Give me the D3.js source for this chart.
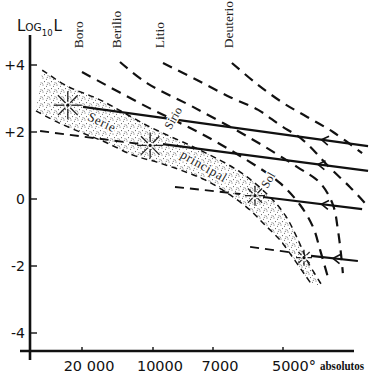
<!DOCTYPE html>
<meta charset="utf-8">
<style>
body { margin: 0; background: #fff; }
svg { display: block; }
.axis-line { stroke: #111; stroke-width: 2.6; fill: none; }
.tick { stroke: #111; stroke-width: 1.4; }
.tick-label { font: 14px "DejaVu Sans", sans-serif; fill: #111; }
.temp-label { font: 14.5px "DejaVu Sans", sans-serif; fill: #111; }
.ignition { stroke: #111; stroke-width: 2.2; fill: none; stroke-dasharray: 10 7; }
.band-edge { stroke: #111; stroke-width: 1.5; fill: none; stroke-dasharray: 6 4.5; }
.lead { stroke: #111; stroke-width: 1.9; fill: none; stroke-dasharray: 9 6; }
.track { stroke: #111; stroke-width: 2.2; fill: none; }
.arrow { stroke: #111; stroke-width: 1.6; fill: none; }
.ray { stroke: #222; stroke-width: 1.3; }
.serif { font-family: "Liberation Serif", "Times New Roman", serif; fill: #222; }
.halo { paint-order: stroke; stroke: #fff; stroke-width: 3px; stroke-linejoin: round; }
</style>
<body>
<script src="https://cdnjs.cloudflare.com/ajax/libs/d3/7.8.5/d3.min.js"></script>
<script>
var width = 371, height = 380;

// axes
var tempTicks = [20000, 10000, 7000, 5000];
var tempLabels = ["20 000", "10000", "7000", "5000°"];
var lumTicks = [4, 2, 0, -2, -4];
var lumLabels = ["+4", "+2", "0", "-2", "-4"];

// ignition lines, [temperature K, log L]
var elements = ["Boro", "Berilio", "Litio", "Deuterio"];
var boro = [[20000, 3.79], [10850, 2.75], [7650, 1.97], [6030, 1.16], [5090, 0.48],
            [4510, -0.18], [4140, -0.84], [3940, -1.52], [3710, -2.36]];
var berilio = [[14650, 4.09], [10850, 3.46], [8000, 2.75], [5940, 1.82], [4600, 0.96],
               [3940, 0.48], [3570, -0.18], [3430, -0.93], [3340, -1.67], [3290, -2.21]];
var litio = [[9500, 4.06], [7800, 3.55], [6510, 3.04], [5710, 2.66], [5090, 2.21],
             [4430, 1.76], [3660, 0.93], [3090, 0.36], [2660, -0.12]];
var deuterio = [[6460, 4.06], [5740, 3.43], [5000, 2.87], [4310, 2.45], [3570, 2.0], [2740, 1.37]];

// main sequence band edges
var bandUpper = [[25600, 3.85], [22100, 3.37], [17470, 2.96], [10430, 2.15], [7650, 1.46],
                 [6230, 0.81], [5430, 0.12], [4940, -0.48], [4570, -1.22], [4290, -1.88], [3890, -2.57]];
var bandLower = [[26480, 2.63], [23520, 2.30], [20280, 2.0], [16760, 1.70], [12820, 1.31],
                 [9800, 1.10], [8650, 0.87], [7400, 0.57], [6510, 0.12], [5940, -0.33],
                 [5510, -0.78], [5090, -1.22], [4710, -1.76], [4370, -2.27], [4170, -2.57]];

// stars on the main sequence
var starNames = ["", "Sirio", "Sol", ""];
var starT = [22000, 10400, 5800, 4400];
var starL = [2.8, 1.6, 0.1, -1.75];

// contraction tracks: solid part, dashed part left of the star, arrow temperature
var trackSolid = [
  [[19860, 2.75], [2570, 1.58]],
  [[9500, 1.64], [2570, 0.84]],
  [[5570, 0.06], [2740, -0.3]],
  [[4200, -1.70], [2860, -1.85]]
];
var trackLead = [
  null,
  [[25900, 2.03], [11800, 1.64]],
  [[8900, 0.36], [6230, 0.15]],
  [[5940, -1.43], [4660, -1.61]]
];
var arrowT = [3900, 4000, 3900, 3570];

// band text
var bandWords = ["Serie", "principal"];
var bandWordPos = [[17180, 2.3], [7450, 0.99]];

var x = d3.scaleLinear().domain(tempTicks).range([82, 153, 213, 283]);
var y = d3.scaleLinear().domain([-4, 4]).range([333, 65]);

var svg = d3.select("body").append("svg")
    .attr("width", width)
    .attr("height", height);

var defs = svg.append("defs");
var pat = defs.append("pattern")
    .attr("id", "stipple")
    .attr("patternUnits", "userSpaceOnUse")
    .attr("width", 7).attr("height", 7);
[[1, 1], [4.5, 2.2], [2.5, 4.6], [6, 5.8], [0.2, 6.2], [5.3, 0.2]].forEach(function(p) {
  pat.append("circle").attr("cx", p[0]).attr("cy", p[1]).attr("r", 0.55).attr("fill", "#555");
});

var smooth = d3.line()
    .x(function(d) { return x(d[0]); })
    .y(function(d) { return y(d[1]); })
    .curve(d3.curveCatmullRom.alpha(0.5));
var straight = d3.line()
    .x(function(d) { return x(d[0]); })
    .y(function(d) { return y(d[1]); });

// band fill
var up = smooth(bandUpper);
var low = smooth(bandLower.slice().reverse()).replace(/^M/, "L");
svg.append("path")
    .attr("d", up + low + "Z")
    .attr("fill", "url(#stipple)");

svg.selectAll(".band-edge")
  .data([bandUpper, bandLower])
  .enter().append("path")
    .attr("class", "band-edge")
    .attr("d", smooth);

// ignition lines
var ignition = [boro, berilio, litio, deuterio];
svg.selectAll(".ignition")
  .data(ignition)
  .enter().append("path")
    .attr("class", "ignition")
    .attr("d", smooth);

svg.selectAll(".element")
  .data(elements)
  .enter().append("text")
    .attr("class", "serif")
    .style("font-size", "13.5px")
    .attr("dy", "0.35em")
    .attr("transform", function(d, i) {
      return "translate(" + (x(ignition[i][0][0]) - 4) + "," + y(4.5) + ") rotate(-90)";
    })
    .text(function(d) { return d; });

// tracks
svg.selectAll(".lead")
  .data(trackLead.filter(function(d) { return d; }))
  .enter().append("path")
    .attr("class", "lead")
    .attr("d", straight);

svg.selectAll(".track")
  .data(trackSolid)
  .enter().append("path")
    .attr("class", "track")
    .attr("d", straight);

trackSolid.forEach(function(t, i) {
  var x0 = x(t[0][0]), y0 = y(t[0][1]), x1 = x(t[1][0]), y1 = y(t[1][1]);
  var px = x(arrowT[i]);
  var py = y0 + (px - x0) / (x1 - x0) * (y1 - y0);
  var ang = Math.atan2(y1 - y0, x1 - x0) * 180 / Math.PI;
  svg.append("path")
      .attr("class", "arrow")
      .attr("d", "M7,-4.5L0,0L7,4.5")
      .attr("transform", "translate(" + px + "," + py + ") rotate(" + ang + ")");
});

// stars
var starR = [14, 13, 10, 8];
starT.forEach(function(t, i) {
  var g = svg.append("g").attr("transform", "translate(" + x(t) + "," + y(starL[i]) + ")");
  d3.range(8).forEach(function(k) {
    var a = k * Math.PI / 4;
    g.append("line")
        .attr("class", "ray")
        .attr("x1", 3.5 * Math.cos(a)).attr("y1", 3.5 * Math.sin(a))
        .attr("x2", starR[i] * Math.cos(a)).attr("y2", starR[i] * Math.sin(a));
  });
  g.append("circle").attr("r", 1.6).attr("fill", "#111");
});

// star names
var starNamePos = [null, [9000, 2.42], [5430, 0.57], null];
starNames.forEach(function(n, i) {
  if (!n) return;
  svg.append("text")
      .attr("class", "serif halo")
      .style("font-size", "12px")
      .attr("text-anchor", "middle")
      .attr("dy", "0.35em")
      .attr("transform", "translate(" + x(starNamePos[i][0]) + "," + y(starNamePos[i][1]) + ") rotate(-60)")
      .text(n);
});

// band words
svg.selectAll(".band-word")
  .data(bandWords)
  .enter().append("text")
    .attr("class", "serif halo")
    .style("font-size", "13px")
    .style("letter-spacing", "0.6px")
    .attr("text-anchor", "middle")
    .attr("dy", "0.35em")
    .attr("transform", function(d, i) {
      return "translate(" + x(bandWordPos[i][0]) + "," + y(bandWordPos[i][1]) + ") rotate(" + (i ? 30 : 25) + ")";
    })
    .text(function(d) { return d; });

// axes
var x0px = 30, axisY = 351;
svg.append("line").attr("class", "axis-line")
    .attr("x1", x0px).attr("x2", x0px).attr("y1", 35).attr("y2", 360);
svg.append("line").attr("class", "axis-line")
    .attr("x1", 20).attr("x2", 354).attr("y1", axisY).attr("y2", axisY);

svg.selectAll(".ytick")
  .data(lumTicks)
  .enter().append("line")
    .attr("class", "tick")
    .attr("x1", x0px).attr("x2", x0px + 7)
    .attr("y1", function(d) { return y(d); })
    .attr("y2", function(d) { return y(d); });
svg.selectAll(".ylab")
  .data(lumTicks)
  .enter().append("text")
    .attr("class", "tick-label")
    .attr("text-anchor", "end")
    .attr("x", 25)
    .attr("y", function(d) { return y(d) + 5; })
    .text(function(d, i) { return lumLabels[i]; });

svg.selectAll(".xtick")
  .data(tempTicks)
  .enter().append("line")
    .attr("class", "tick")
    .attr("x1", function(d) { return x(d); })
    .attr("x2", function(d) { return x(d); })
    .attr("y1", axisY).attr("y2", axisY - 4);
svg.selectAll(".xlab")
  .data(tempTicks)
  .enter().append("text")
    .attr("class", "temp-label")
    .attr("x", function(d, i) { return x(d) + (i == 3 ? 11 : 7); })
    .attr("y", 371)
    .attr("text-anchor", "middle")
    .text(function(d, i) { return tempLabels[i]; });

svg.append("text")
    .attr("class", "serif")
    .attr("x", 320).attr("y", 370)
    .attr("textLength", 44)
    .attr("lengthAdjust", "spacingAndGlyphs")
    .style("font-size", "12.5px")
    .style("font-weight", "bold")
    .style("fill", "#111")
    .text("absolutos");

// y title: Log10 L
var title = svg.append("text")
    .attr("x", 17).attr("y", 31)
    .style("font-family", "'DejaVu Sans', sans-serif")
    .style("fill", "#111");
title.append("tspan").style("font-size", "15px").text("L");
title.append("tspan").style("font-size", "10.5px").text("OG");
title.append("tspan").style("font-size", "8.5px").attr("dy", 5).text("10");
title.append("tspan").style("font-size", "15px").attr("dy", -5).attr("dx", 1).text("L");
</script>
</body>
